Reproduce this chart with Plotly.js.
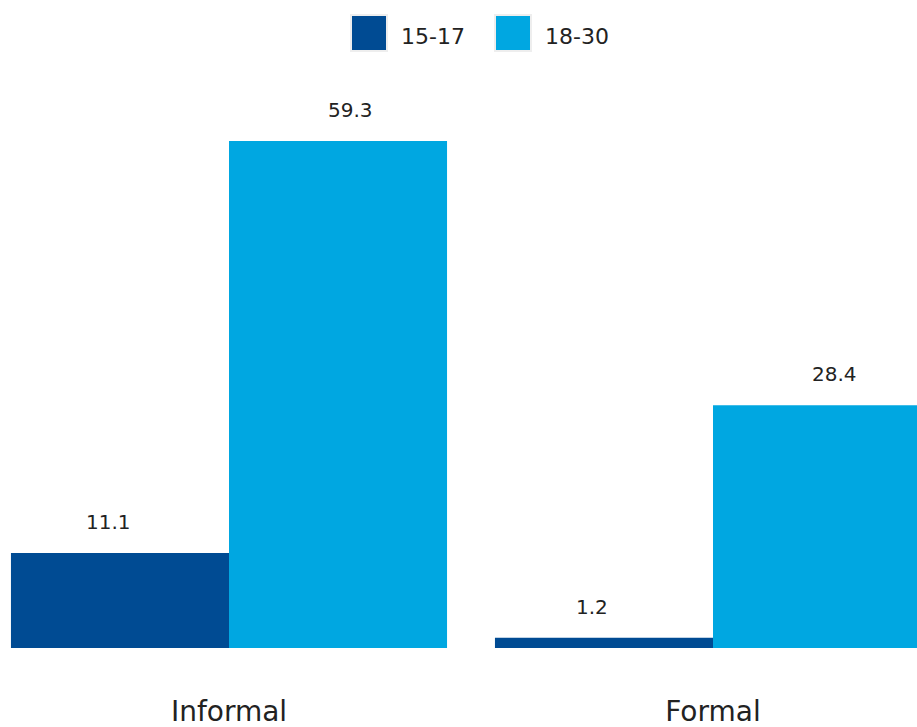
<!DOCTYPE html>
<html>
<head>
<meta charset="utf-8">
<script src="https://cdn.plot.ly/plotly-3.0.1.min.js"></script>
<style>html,body{margin:0;padding:0;background:#fff;}#chart{width:917px;height:727px;}</style>
</head>
<body>
<div id="chart"></div>
<script>
const categories = ["Informal", "Formal"];
const seriesNames = ["15-17", "18-30"];
const values1517 = [11.1, 1.2];
const values1830 = [59.3, 28.4];
const colors = ["#004B93", "#00A7E1"];

const W = 917, H = 727, T = 80, B = 648;
const FONT = "DejaVu Sans, sans-serif";
const py = y => (B - y) / (B - T);

const allSeries = [values1517, values1830];
const traces = allSeries.map((vals, i) => ({
  type: "bar",
  name: seriesNames[i],
  x: categories,
  y: vals,
  marker: {color: colors[i], line: {width: 0}},
  hoverinfo: "skip",
  showlegend: false
}));

const annotations = [];
allSeries.forEach((vals, s) => {
  vals.forEach((v, c) => {
    annotations.push({
      x: c + (s === 0 ? -0.25 : 0.25), y: v, xref: "x", yref: "y",
      text: v.toFixed(1), showarrow: false, yshift: 31, yanchor: "middle",
      font: {family: FONT, size: 20, color: "#222"}
    });
  });
});
const legendX = [351, 495];
const shapes = [];
seriesNames.forEach((n, i) => {
  shapes.push({
    type: "rect", xref: "paper", yref: "paper",
    x0: legendX[i] / W, x1: (legendX[i] + 36) / W, y0: py(51), y1: py(15),
    fillcolor: colors[i], line: {color: "#eeeeee", width: 2}
  });
  annotations.push({
    xref: "paper", yref: "paper", x: (legendX[i] + 48) / W, y: py(36),
    xanchor: "left", yanchor: "middle", text: n, showarrow: false,
    font: {family: FONT, size: 22, color: "#222"}
  });
});

const layout = {
  width: W, height: H,
  margin: {l: 0, r: 0, t: T, b: H - B, pad: 0},
  paper_bgcolor: "#fff", plot_bgcolor: "#fff",
  barmode: "group", bargap: 0.099, bargroupgap: 0,
  showlegend: false,
  xaxis: {
    type: "category", range: [-229 / 484, 1 + 204 / 484],
    showgrid: false, zeroline: false, showline: false, ticks: "",
    tickfont: {family: FONT, size: 28, color: "#222"},
    ticklabelstandoff: 44
  },
  yaxis: {
    range: [0, (B - T) / ((648 - 141) / 59.3)],
    showgrid: false, zeroline: false, showline: false, showticklabels: false
  },
  annotations: annotations,
  shapes: shapes
};

Plotly.newPlot("chart", traces, layout, {displayModeBar: false, staticPlot: true});
</script>
</body>
</html>
